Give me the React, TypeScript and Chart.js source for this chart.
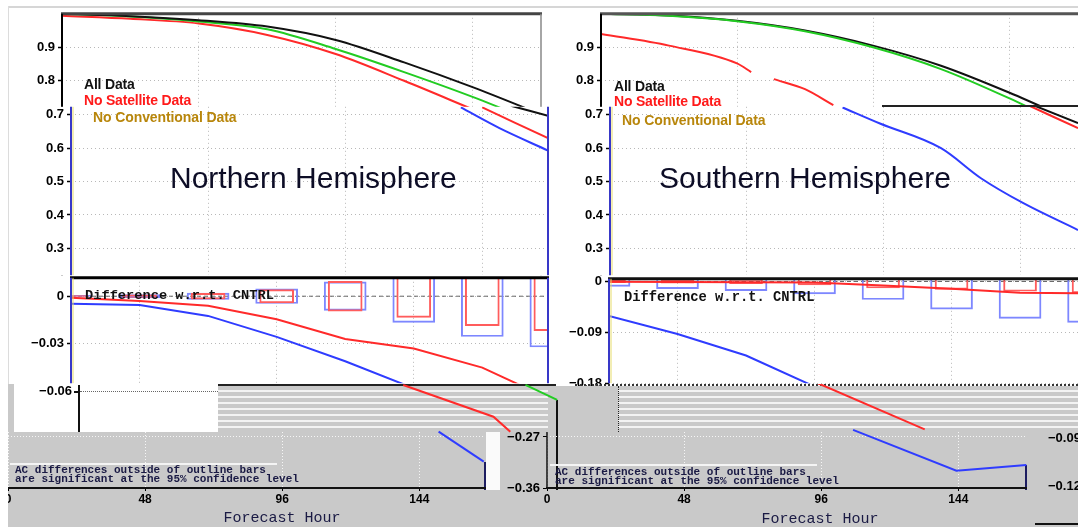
import React, { useEffect, useRef } from 'react';
import { Chart, registerables } from 'chart.js';

Chart.register(...registerables);
Chart.defaults.font.family = '"Liberation Sans", Arial, sans-serif';

// ---------------- data ----------------
const HOURS = [0, 24, 48, 72, 96, 120, 144, 168];
const GRID_HOURS = [48, 96, 144];
const LOWER_X_TICKS = [0, 48, 96, 144];
const AC_TICKS_UPPER = [0.8, 0.9];
const AC_TICKS_LOWER = [0.3, 0.4, 0.5, 0.6, 0.7];
const NH_DIFF_TICKS = [0, -0.03];
const SH_DIFF_TICKS = [0, -0.09, -0.18];
const LOWER_Y_TICKS = [-0.27, -0.36];

const LEGEND_LABELS = ['All Data', 'No Satellite Data', 'No Conventional Data'];
const PANEL_TITLES = ['Northern Hemisphere', 'Southern Hemisphere'];
const DIFF_LABEL = 'Difference w.r.t. CNTRL';
const NOTE_LINES = ['AC differences outside of outline bars', 'are significant at the 95% confidence level'];
const X_TITLE = 'Forecast Hour';
const EXTRA_Y_LABELS = ['−0.06', '−0.09', '−0.12'];

// Northern Hemisphere anomaly correlation (upper layer)
const nhAllData = [1.0, 0.993, 0.981, 0.962, 0.922, 0.855, 0.781, 0.70];
const nhCntrl = [1.0, 0.992, 0.977, 0.954, 0.895, 0.826, 0.752, 0.67];
const nhNoSat = [0.994, 0.985, 0.971, 0.937, 0.88, 0.80, 0.715, 0.63];
// Northern Hemisphere tails (overlay layer)
const nhTailBlueHours = [136.5, 150, 167];
const nhTailBlue = [0.722, 0.66, 0.593];
const nhTailRedHours = [144, 167];
const nhTailRed = [0.722, 0.63];
const nhTailBlackHours = [154, 167];
const nhTailBlack = [0.727, 0.697];

// Southern Hemisphere anomaly correlation (upper layer)
const shAllData = [1.0, 0.995, 0.979, 0.95, 0.905, 0.845, 0.765, 0.675];
const shCntrl = [1.0, 0.994, 0.978, 0.948, 0.9, 0.835, 0.748, 0.65];
const shNoSatHours = [0, 24, 48, 53, 57, 61, 72, 82];
const shNoSat = [0.94, 0.905, 0.852, 0.826, null, 0.805, 0.775, 0.727];
// Southern Hemisphere tails (overlay layer)
const shTailBlueHours = [81.5, 94.6, 116, 130, 144.7, 164];
const shTailBlue = [0.722, 0.674, 0.6, 0.51, 0.436, 0.355];
const shTailRedHours = [147, 164];
const shTailRed = [0.727, 0.66];
const shTailBlackHours = [148, 164];
const shTailBlack = [0.73, 0.675];

// Differences w.r.t. CNTRL
const nhDiffRed = [-0.001, -0.003, -0.006, -0.0145, -0.027, -0.033, -0.045, -0.065];
const nhDiffBlue = [-0.0047, -0.0056, -0.0124, -0.0256, -0.041, -0.058, -0.075, -0.09];
const shDiffRed = [-0.0005, -0.001, -0.0015, -0.002, -0.007, -0.013, -0.02, -0.021];
const shDiffBlue = [-0.061, -0.093, -0.131, -0.186, null, null, null, null];
// 95% significance half-widths (outline bars)
const nhSigBlue = [0.0005, 0.001, 0.002, 0.0046, 0.009, 0.0165, 0.0254, 0.032];
const nhSigRed = [0.0004, 0.0008, 0.0018, 0.0042, 0.0094, 0.0134, 0.0186, 0.0217];
const shSigBlue = [0.0087, 0.0127, 0.0162, 0.022, 0.032, 0.049, 0.0655, 0.0725];
const shSigRed = [0.002, 0.003, 0.004, 0.006, 0.0116, 0.014, 0.0174, 0.02];

// line pieces continuing below the difference panels
const nhLowRedHours = [116.3, 147.9, 153.8];
const nhLowRed = [-0.0554, -0.0751, -0.0844];
const nhLowBlueHours = [128.7, 144.5];
const nhLowBlue = [-0.0844, -0.103];
const nhLowGreenHours = [159.1, 170.2];
const nhLowGreen = [-0.0554, -0.0647];
const shLowRedHours = [73.2, 110.6];
const shLowRed = [-0.1787, -0.2589];
const shLowBlueHours = [85.5, 121.7, 146.2];
const shLowBlue = [-0.26, -0.331, -0.321];

// ---------------- styling ----------------
const BLACK = '#111111';
const GREEN = '#22cc22';
const RED = '#ff2a2a';
const BLUE = '#2f3cff';
const BAR_BLUE = '#7d87ff';
const BAR_RED = '#ff5c5c';
const GRID = '#b8b8b8';
const AXIS_BLUE = '#3838c8';
const GRAY = '#c9c9c9';
const NAVY = '#1a1a44';
const GOLD = '#b8860b';

const framePlugin = {
  id: 'frame',
  beforeDraw(chart: any, _a: any, o: any) {
    if (!o || !o.fill) return;
    const { ctx, chartArea: a } = chart;
    const x0 = o.fillLeft != null ? o.fillLeft : a.left;
    ctx.save();
    ctx.fillStyle = o.fill;
    ctx.fillRect(x0, a.top, a.right - x0, a.bottom - a.top);
    ctx.restore();
  },
  beforeDatasetsDraw(chart: any, _a: any, o: any) {
    if (!o || o.zero == null) return;
    const { ctx, chartArea: a, scales } = chart;
    const y = scales.y.getPixelForValue(o.zero);
    ctx.save();
    ctx.strokeStyle = '#666';
    ctx.lineWidth = 1;
    ctx.setLineDash([4, 3]);
    ctx.beginPath();
    ctx.moveTo(a.left, y);
    ctx.lineTo(a.right, y);
    ctx.stroke();
    ctx.restore();
  },
  afterDraw(chart: any, _a: any, o: any) {
    if (!o || !o.edges) return;
    const { ctx, chartArea: a } = chart;
    for (const e of o.edges) {
      const off = e.off || 0;
      ctx.save();
      ctx.strokeStyle = e.color;
      ctx.lineWidth = e.width;
      ctx.beginPath();
      if (e.side === 'top') { ctx.moveTo(a.left - 1, a.top + off); ctx.lineTo(a.right + 1, a.top + off); }
      if (e.side === 'bottom') { ctx.moveTo(a.left - 1, a.bottom + off); ctx.lineTo(a.right + 1, a.bottom + off); }
      if (e.side === 'left') { ctx.moveTo(a.left + off, a.top); ctx.lineTo(a.left + off, a.bottom); }
      if (e.side === 'right') { ctx.moveTo(a.right + off, a.top); ctx.lineTo(a.right + off, a.bottom); }
      ctx.stroke();
      ctx.restore();
    }
  },
};
Chart.register(framePlugin as any);

const fmt = (v: number, d: number) => (v === 0 ? '0' : (v < 0 ? '−' : '') + Math.abs(v).toFixed(d));
const pts = (xs: number[], ys: (number | null)[]) => xs.map((x, i) => ({ x, y: ys[i] }));

function lineDs(label: string, xs: number[], ys: (number | null)[], color: string, smooth: boolean, extra: any = {}) {
  return {
    type: 'line', label, data: pts(xs, ys), borderColor: color, backgroundColor: color,
    borderWidth: 2, pointRadius: 0, spanGaps: false, order: 0,
    tension: 0, cubicInterpolationMode: smooth ? 'monotone' : 'default', ...extra,
  };
}
function barDs(label: string, sig: number[], color: string, thickness: number) {
  return {
    type: 'bar', label, data: HOURS.map((h, i) => ({ x: h, y: [-sig[i], sig[i]] })),
    backgroundColor: 'rgba(0,0,0,0)', borderColor: color, borderWidth: 1.3, borderSkipped: false,
    barThickness: thickness, grouped: false, order: 1,
  };
}
function xAxis(max: number, ticks: number[], show = true) {
  return {
    type: 'linear', min: 0, max, offset: false, display: show,
    afterBuildTicks: (s: any) => { s.ticks = ticks.map((v) => ({ value: v })); },
    afterFit: (s: any) => { s.height = 0; s.paddingLeft = 0; s.paddingRight = 0; },
    ticks: { display: false },
    grid: { color: GRID, drawTicks: false, lineWidth: 1 },
    border: { display: false, dash: [1, 3] },
  };
}
function yAxis(min: number, max: number, ticks: number[], yw: number, dec: number, show = true) {
  return {
    type: 'linear', min, max, display: show,
    afterBuildTicks: (s: any) => { s.ticks = ticks.map((v) => ({ value: v })); },
    afterFit: (s: any) => { s.width = yw; },
    ticks: { display: true, color: '#000', padding: 3, font: { weight: 'bold', size: 13 }, callback: (v: any) => fmt(Number(v), dec) },
    grid: { color: GRID, lineWidth: 1, drawTicks: true, tickLength: 4, tickColor: '#000', tickWidth: 1.5 },
    border: { display: false, dash: [1, 3] },
  };
}

type Geo = { l: number; t: number; r: number; b: number; yw: number; padT?: number; padB?: number; padR?: number; xh?: number };

function ChartCanvas({ geo, z, build }: { geo: Geo; z: number; build: () => any }) {
  const ref = useRef<HTMLCanvasElement | null>(null);
  const padT = geo.padT ?? 10;
  const padB = geo.padB ?? 10;
  const padR = geo.padR ?? 12;
  const xh = geo.xh ?? 0;
  const w = geo.yw + (geo.r - geo.l) + padR;
  const h = padT + (geo.b - geo.t) + xh + padB;
  useEffect(() => {
    if (!ref.current) return;
    const cfg = build();
    cfg.options = {
      responsive: false, maintainAspectRatio: false, animation: false, devicePixelRatio: 1, events: [],
      ...cfg.options,
      layout: { padding: { left: 0, top: padT, right: padR, bottom: padB } },
    };
    cfg.options.plugins = { legend: { display: false }, tooltip: { enabled: false }, ...(cfg.options.plugins || {}) };
    const chart = new Chart(ref.current, cfg);
    return () => chart.destroy();
  }, []);
  return (
    <canvas ref={ref} width={w} height={h}
      style={{ position: 'absolute', left: geo.l - geo.yw, top: geo.t - padT, width: w, height: h, zIndex: z }} />
  );
}

function Txt(p: { x: number; y: number; text: string; size: number; color?: string; bold?: boolean; mono?: boolean; align?: string; lh?: number; z?: number; ls?: number }) {
  const style: any = {
    position: 'absolute', top: p.y, whiteSpace: 'nowrap', fontSize: p.size, lineHeight: (p.lh ?? p.size) + 'px',
    color: p.color ?? '#000', fontWeight: p.bold ? 'bold' : 'normal', zIndex: p.z ?? 20,
    fontFamily: p.mono ? '"Liberation Mono", "DejaVu Sans Mono", monospace' : '"Liberation Sans", Arial, sans-serif',
    letterSpacing: (p.ls ?? 0) + 'px',
  };
  if (p.align === 'right') { style.left = p.x - 300; style.width = 300; style.textAlign = 'right'; }
  else if (p.align === 'center') { style.left = p.x - 300; style.width = 600; style.textAlign = 'center'; }
  else style.left = p.x;
  return <div style={style}>{p.text}</div>;
}

function Box(p: { l: number; t: number; w: number; h: number; bg?: string; z?: number; extra?: any }) {
  return <div style={{ position: 'absolute', left: p.l, top: p.t, width: p.w, height: p.h, background: p.bg, zIndex: p.z ?? 8, ...(p.extra || {}) }} />;
}

const STRIPES = `repeating-linear-gradient(to bottom, ${GRAY} 0px, ${GRAY} 4px, #f3f3f3 4px, #f3f3f3 6px)`;

// ---------------- chart configs ----------------
const acTop = (ds: any[], max: number, edges: any[]) => () => ({
  type: 'line',
  data: { datasets: ds },
  options: {
    scales: { x: xAxis(max, GRID_HOURS), y: yAxis(0.2196, 1.0, AC_TICKS_UPPER, 40, 1) },
    plugins: { frame: { edges } },
  },
});
const acOverlay = (ds: any[], max: number, edges: any[]) => () => ({
  type: 'line',
  data: { datasets: ds },
  options: {
    scales: { x: xAxis(max, GRID_HOURS), y: yAxis(0.2196, 0.724, AC_TICKS_LOWER, 40, 1) },
    plugins: { frame: { fill: '#ffffff', fillLeft: 0, edges } },
  },
});
const diffChart = (ds: any[], max: number, yMin: number, yMax: number, ticks: number[], edges: any[]) => () => ({
  type: 'line',
  data: { datasets: ds },
  options: {
    scales: { x: xAxis(max, GRID_HOURS), y: yAxis(yMin, yMax, ticks, 40, 2) },
    plugins: { frame: { zero: 0, edges } },
  },
});
const lowPieces = (ds: any[], max: number, yMin: number, yMax: number) => () => ({
  type: 'line',
  data: { datasets: ds },
  options: {
    scales: {
      x: { type: 'linear', min: 0, max, display: false },
      y: { type: 'linear', min: yMin, max: yMax, display: false },
    },
  },
});
const lowerAxis = (max: number, showY: boolean, yw: number, edges: any[]) => () => ({
  type: 'line',
  data: { datasets: [] },
  options: {
    scales: {
      x: {
        type: 'linear', min: 0, max, offset: false,
        afterBuildTicks: (s: any) => { s.ticks = LOWER_X_TICKS.map((v) => ({ value: v })); },
        afterFit: (s: any) => { s.height = 20; s.paddingLeft = 0; s.paddingRight = 0; },
        ticks: { display: true, color: '#000', font: { weight: 'bold', size: 12 }, padding: 1, maxRotation: 0, autoSkip: false },
        grid: { color: '#f6f6f6', drawTicks: true, tickLength: 3, tickColor: '#000', lineWidth: 1 },
        border: { display: false, dash: [1, 2] },
      },
      y: {
        type: 'linear', min: -0.36, max: -0.2612,
        afterBuildTicks: (s: any) => { s.ticks = LOWER_Y_TICKS.map((v) => ({ value: v })); },
        afterFit: (s: any) => { s.width = yw; s.paddingTop = 0; s.paddingBottom = 0; },
        ticks: { display: showY, color: '#000', padding: 3, font: { weight: 'bold', size: 13 }, callback: (v: any) => fmt(Number(v), 2) },
        grid: { color: '#f6f6f6', drawTicks: showY, tickLength: 4, tickColor: '#000' },
        border: { display: false, dash: [1, 2] },
      },
    },
    plugins: { frame: { edges } },
  },
});

export default function App() {
  const nhTop = [
    lineDs(LEGEND_LABELS[0], HOURS, nhAllData, BLACK, true),
    lineDs('CNTRL', HOURS, nhCntrl, GREEN, true),
    lineDs(LEGEND_LABELS[1], HOURS, nhNoSat, RED, true),
  ];
  const nhOv = [
    lineDs(LEGEND_LABELS[0], nhTailBlackHours, nhTailBlack, BLACK, true),
    lineDs(LEGEND_LABELS[1], nhTailRedHours, nhTailRed, RED, true),
    lineDs(LEGEND_LABELS[2], nhTailBlueHours, nhTailBlue, BLUE, true),
  ];
  const shTop = [
    lineDs('CNTRL', HOURS, shCntrl, GREEN, true),
    lineDs(LEGEND_LABELS[0], HOURS, shAllData, BLACK, true),
    lineDs(LEGEND_LABELS[1], shNoSatHours, shNoSat, RED, true),
  ];
  const shOv = [
    lineDs(LEGEND_LABELS[0], shTailBlackHours, shTailBlack, BLACK, true),
    lineDs(LEGEND_LABELS[1], shTailRedHours, shTailRed, RED, true),
    lineDs(LEGEND_LABELS[2], shTailBlueHours, shTailBlue, BLUE, true),
  ];
  const nhDiff = [
    lineDs(LEGEND_LABELS[1], HOURS, nhDiffRed, RED, false),
    lineDs(LEGEND_LABELS[2], HOURS, nhDiffBlue, BLUE, false),
    barDs('sig red', nhSigRed, BAR_RED, 34),
    barDs('sig blue', nhSigBlue, BAR_BLUE, 42),
  ];
  const shDiff = [
    lineDs(LEGEND_LABELS[1], HOURS, shDiffRed, RED, false),
    lineDs(LEGEND_LABELS[2], HOURS, shDiffBlue, BLUE, false),
    barDs('sig red', shSigRed, BAR_RED, 33),
    barDs('sig blue', shSigBlue, BAR_BLUE, 42),
  ];
  const nhLow = [
    lineDs('red', nhLowRedHours, nhLowRed, RED, false, { clip: false }),
    lineDs('blue', nhLowBlueHours, nhLowBlue, BLUE, false, { clip: false }),
    lineDs('green', nhLowGreenHours, nhLowGreen, GREEN, false, { clip: false }),
  ];
  const shLow = [
    lineDs('red', shLowRedHours, shLowRed, RED, false, { clip: false }),
    lineDs('blue', shLowBlueHours, shLowBlue, BLUE, false, { clip: false }),
  ];

  const blueEdge = (side: string) => [{ side, color: AXIS_BLUE, width: 2 }, { side, color: '#e6dc6a', width: 1, off: 2 }];

  return (
    <div style={{ position: 'fixed', left: 0, top: 0, width: 1078, height: 527, overflow: 'hidden', background: '#fff' }}>
      {/* outer frame */}
      <Box l={8} t={6} w={1070} h={2} bg="#d6d6d6" z={0} />
      <Box l={8} t={6} w={1} h={380} bg="#dcdcdc" z={0} />

      {/* upper layer AC charts */}
      <ChartCanvas geo={{ l: 62, t: 13, r: 541, b: 276, yw: 40 }} z={1}
        build={acTop(nhTop, 168, [{ side: 'top', color: '#444', width: 3 }, { side: 'left', color: '#000', width: 2 }, { side: 'right', color: '#888', width: 1.5 }])} />
      <ChartCanvas geo={{ l: 601, t: 13, r: 1077, b: 276, yw: 40 }} z={1}
        build={acTop(shTop, 168, [{ side: 'top', color: '#555', width: 3 }, { side: 'left', color: '#000', width: 2 }])} />

      {/* overlay AC charts */}
      <ChartCanvas geo={{ l: 71, t: 106, r: 548, b: 276, yw: 40 }} z={2}
        build={acOverlay(nhOv, 167, [...blueEdge('left'), { side: 'right', color: AXIS_BLUE, width: 2 }])} />
      <ChartCanvas geo={{ l: 610, t: 106, r: 1078, b: 276, yw: 40 }} z={2}
        build={acOverlay(shOv, 164, blueEdge('left'))} />
      <Box l={882} t={105} w={196} h={1.5} bg="#222" z={3} />

      {/* difference charts */}
      <ChartCanvas geo={{ l: 71, t: 277, r: 548, b: 384, yw: 40 }} z={4}
        build={diffChart(nhDiff, 167, -0.0548, 0.0116, NH_DIFF_TICKS, [{ side: 'top', color: '#000', width: 3 }, ...blueEdge('left'), { side: 'right', color: AXIS_BLUE, width: 2 }])} />
      <ChartCanvas geo={{ l: 609, t: 278, r: 1078, b: 384, yw: 40 }} z={4}
        build={diffChart(shDiff, 164.3, -0.18, 0.0047, SH_DIFF_TICKS, [{ side: 'top', color: '#111', width: 3 }, ...blueEdge('left')])} />

      {/* lower layers */}
      <Box l={8} t={432} w={1070} h={95} bg={GRAY} />
      <Box l={8} t={384} w={6} h={48} bg={GRAY} />
      <Box l={218} t={386} w={330} h={46} bg={STRIPES} />
      <Box l={548} t={386} w={70} h={46} bg={GRAY} />
      <Box l={618} t={386} w={460} h={46} bg={STRIPES} />
      <Box l={486} t={432} w={14} h={58} bg="#fafafa" z={9} />
      <Box l={218} t={384} w={338} h={2} bg="#222" z={9} />
      <Box l={575} t={384} w={503} h={0} z={9} extra={{ borderTop: '2px dotted #333' }} />
      <Box l={78} t={385} w={1.5} h={47} bg="#111" z={9} />
      <Box l={74} t={391} w={5} h={1.5} bg="#111" z={9} />
      <Box l={80} t={391} w={138} h={0} z={9} extra={{ borderTop: '1px dotted #666' }} />
      <Box l={556} t={400} w={1.5} h={90} bg="#111" z={9} />
      <Box l={618} t={386} w={0} h={46} z={9} extra={{ borderLeft: '1px dotted #222' }} />
      <Box l={10} t={463} w={267} h={1.5} bg="#f4f4f4" z={9} />
      <Box l={550} t={464} w={267} h={1.5} bg="#f4f4f4" z={9} />
      <Box l={484} t={462} w={2} h={28} bg="#1c1c60" z={9} />
      <Box l={1025} t={465} w={2} h={25} bg="#1c1c60" z={9} />
      <Box l={1035} t={523} w={43} h={2} bg="#111" z={9} />

      <ChartCanvas geo={{ l: 8, t: 432, r: 485, b: 488, yw: 0, padT: 4, padB: 6, xh: 20 }} z={10}
        build={lowerAxis(167, false, 0, [{ side: 'bottom', color: '#111', width: 2 }])} />
      <ChartCanvas geo={{ l: 547, t: 432, r: 1026, b: 488, yw: 45, padT: 8, padB: 6, xh: 20 }} z={10}
        build={lowerAxis(167.7, true, 45, [{ side: 'bottom', color: '#111', width: 2 }, { side: 'left', color: '#111', width: 1.5 }])} />

      <ChartCanvas geo={{ l: 71, t: 384, r: 548, b: 490, yw: 0, padT: 0, padB: 0, padR: 16 }} z={11}
        build={lowPieces(nhLow, 167, -0.1206, -0.0548)} />
      <ChartCanvas geo={{ l: 609, t: 384, r: 1078, b: 490, yw: 0, padT: 0, padB: 0, padR: 16 }} z={11}
        build={lowPieces(shLow, 164.3, -0.3646, -0.18)} />

      {/* texts */}
      <Txt x={84} y={77} text={LEGEND_LABELS[0]} size={14} bold lh={14} color="#111" ls={-0.2} />
      <Txt x={84} y={93} text={LEGEND_LABELS[1]} size={14} bold lh={14} color="#ff1a1a" ls={-0.2} />
      <Txt x={93} y={110} text={LEGEND_LABELS[2]} size={14} bold lh={14} color={GOLD} ls={-0.1} />
      <Txt x={614} y={79} text={LEGEND_LABELS[0]} size={14} bold lh={14} color="#111" ls={-0.2} />
      <Txt x={614} y={94} text={LEGEND_LABELS[1]} size={14} bold lh={14} color="#ff1a1a" ls={-0.2} />
      <Txt x={622} y={112.5} text={LEGEND_LABELS[2]} size={14} bold lh={14} color={GOLD} ls={-0.1} />

      <Txt x={170} y={162.6} text={PANEL_TITLES[0]} size={30} lh={30} color="#0d0d26" />
      <Txt x={659} y={162.6} text={PANEL_TITLES[1]} size={30} lh={30} color="#0d0d26" />

      <Txt x={85} y={289.4} text={DIFF_LABEL} size={13.7} bold mono lh={14} color="#111" />
      <Txt x={624} y={291.4} text={DIFF_LABEL} size={13.8} bold mono lh={14} color="#111" />

      <Txt x={72} y={384} text={EXTRA_Y_LABELS[0]} size={13} bold lh={14} align="right" />
      <Txt x={1048} y={431} text={EXTRA_Y_LABELS[1]} size={13} bold lh={14} />
      <Txt x={1048} y={479} text={EXTRA_Y_LABELS[2]} size={13} bold lh={14} />

      <Txt x={15} y={465} text={NOTE_LINES[0]} size={11} bold mono lh={10} color={NAVY} />
      <Txt x={15} y={474} text={NOTE_LINES[1]} size={11} bold mono lh={10} color={NAVY} />
      <Txt x={555} y={466.5} text={NOTE_LINES[0]} size={11} bold mono lh={10} color={NAVY} />
      <Txt x={555} y={476} text={NOTE_LINES[1]} size={11} bold mono lh={10} color={NAVY} />

      <Txt x={282} y={510.5} text={X_TITLE} size={15} mono lh={15} color={NAVY} align="center" />
      <Txt x={820} y={512} text={X_TITLE} size={15} mono lh={15} color={NAVY} align="center" />
    </div>
  );
}
